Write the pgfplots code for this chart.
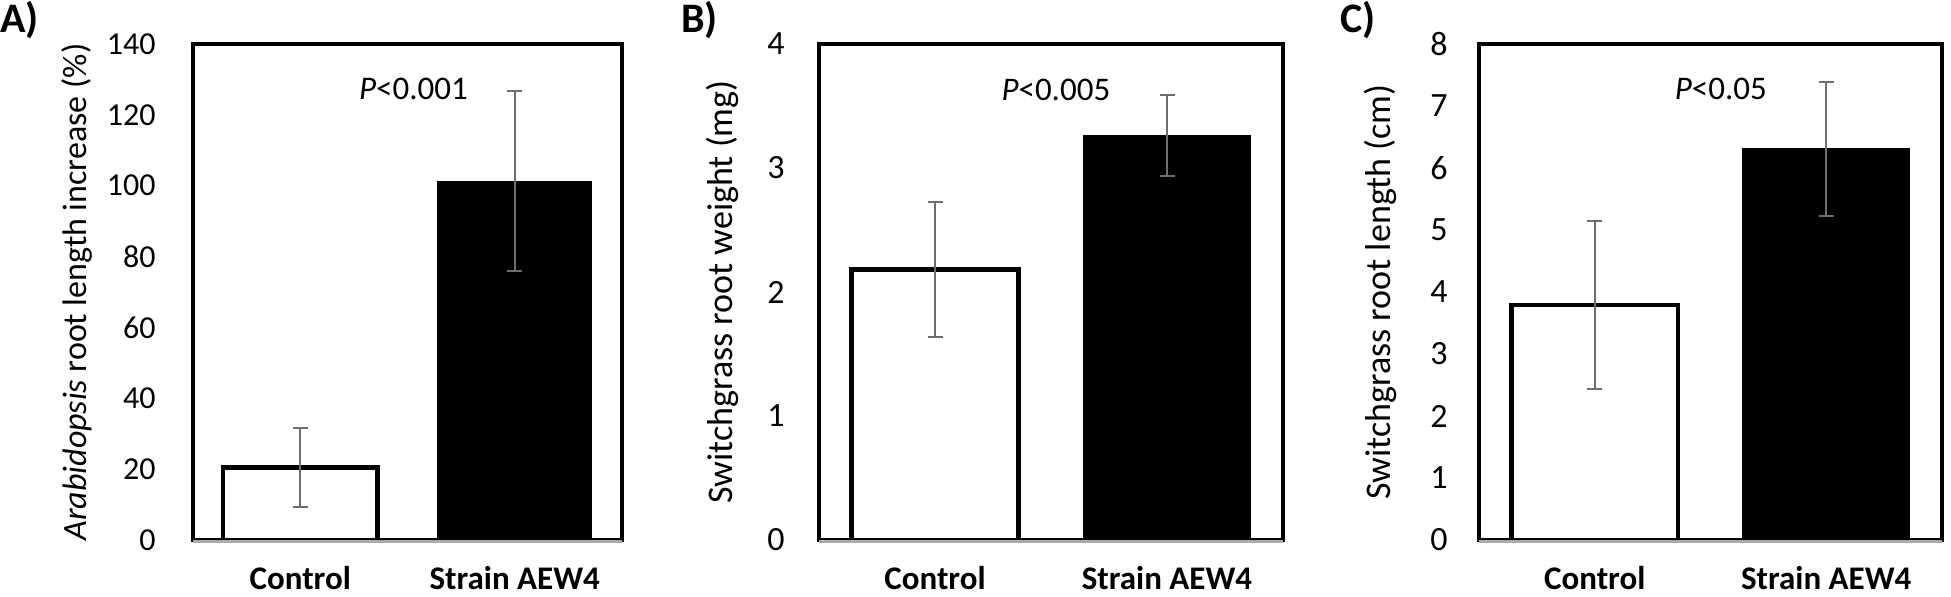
\documentclass[border=0pt]{standalone}
\usepackage{pgfplots}
\pgfplotsset{compat=1.18}
\usepackage{fontspec}
\setmainfont{Carlito}
\definecolor{errgray}{RGB}{110,110,110}
\definecolor{axgray}{RGB}{170,170,170}
\pgfplotsset{
  panel/.style={
    scale only axis,
    xmin=0.5, xmax=2.5, ymin=0,
    xtick={1,2}, xticklabels={Control, Strain AEW4},
    major tick length=0pt,
    axis line style={line width=2pt},
    /pgf/number format/assume math mode=true,
    tick label style={font=\fontsize{16}{19}\selectfont, inner sep=0pt},
    xticklabel style={font=\fontsize{16.5}{19}\selectfont\bfseries, anchor=base, yshift=-24.5pt},
    yticklabel style={anchor=east},
    label style={font=\fontsize{17}{20}\selectfont},
    ylabel style={anchor=center},
    clip=false,
    bar width=0.72,
  },
  ctrl/.style={ybar, bar shift=0pt, fill=white, draw=black, line width=2.3pt, mark=none,
    error bars/.cd, y dir=both, y explicit,
    error bar style={errgray, line width=1pt},
    error mark options={rotate=90, mark size=3.75pt, line width=1pt, errgray}},
  strn/.style={ybar, bar shift=0pt, fill=black, draw=black, line width=0.5pt, mark=none,
    error bars/.cd, y dir=both, y explicit,
    error bar style={errgray, line width=1pt},
    error mark options={rotate=90, mark size=3.75pt, line width=1pt, errgray}},
}
\begin{document}
\begin{tikzpicture}
\useasboundingbox (0,0) rectangle (975.5pt,298pt);
\fontsize{16.5}{19}\selectfont
% Panel A
\begin{axis}[panel, at={(96.5pt,28pt)}, anchor=south west,
  width=214.5pt, height=248pt, ymax=140, ytick={0,20,...,140},
  yticklabel style={xshift=-18.5pt},
  ylabel={\textit{Arabidopsis} root length increase (\%)},
  ylabel style={at={(axis description cs:-0.270,0.5)}}]
\addplot[ctrl] coordinates {(1,20.5) +- (0,11.2)};
\addplot[strn] coordinates {(2,101.3) +- (0,25.4)};
\draw[axgray, line width=1.2pt] ([yshift=-0.75pt]rel axis cs:0,0) -- ([yshift=-0.75pt]rel axis cs:1,0);
\node[anchor=base, inner sep=0pt, font=\fontsize{16.5}{19}\selectfont] at (axis cs:1.528,124.2) {\textit{P}<0.001};
\end{axis}
% Panel B
\begin{axis}[panel, at={(409.5pt,28pt)}, anchor=south west,
  width=232pt, height=248pt, ymax=4, ytick={0,1,...,4},
  yticklabel style={xshift=-17pt, font=\fontsize{17}{20}\selectfont},
  ylabel={Switchgrass root weight (mg)},
  ylabel style={at={(axis description cs:-0.209,0.5)}, font=\fontsize{18}{21}\selectfont}]
\addplot[ctrl] coordinates {(1,2.18) +- (0,0.545)};
\addplot[strn] coordinates {(2,3.26) +- (0,0.327)};
\draw[axgray, line width=1.2pt] ([yshift=-0.75pt]rel axis cs:0,0) -- ([yshift=-0.75pt]rel axis cs:1,0);
\node[anchor=base, inner sep=0pt, font=\fontsize{16.5}{19}\selectfont] at (axis cs:1.521,3.548) {\textit{P}<0.005};
\end{axis}
% Panel C
\begin{axis}[panel, at={(739.5pt,28pt)}, anchor=south west,
  width=231.5pt, height=248pt, ymax=8, ytick={0,1,...,8},
  yticklabel style={xshift=-15.5pt, font=\fontsize{17}{20}\selectfont},
  ylabel={Switchgrass root length (cm)},
  ylabel style={at={(axis description cs:-0.212,0.5)}, font=\fontsize{18}{21}\selectfont}]
\addplot[ctrl] coordinates {(1,3.79) +- (0,1.35)};
\addplot[strn] coordinates {(2,6.31) +- (0,1.08)};
\draw[axgray, line width=1.2pt] ([yshift=-0.75pt]rel axis cs:0,0) -- ([yshift=-0.75pt]rel axis cs:1,0);
\node[anchor=base, inner sep=0pt, font=\fontsize{16.5}{19}\selectfont] at (axis cs:1.545,7.097) {\textit{P}<0.05};
\end{axis}
% Panel letters
\node[anchor=base west, inner sep=0pt, font=\fontsize{21}{24}\selectfont\bfseries] at (0pt,281.5pt) {A)};
\node[anchor=base west, inner sep=0pt, font=\fontsize{21}{24}\selectfont\bfseries] at (340.5pt,281.5pt) {B)};
\node[anchor=base west, inner sep=0pt, font=\fontsize{21}{24}\selectfont\bfseries] at (670pt,281.5pt) {C)};
\end{tikzpicture}
\end{document}
